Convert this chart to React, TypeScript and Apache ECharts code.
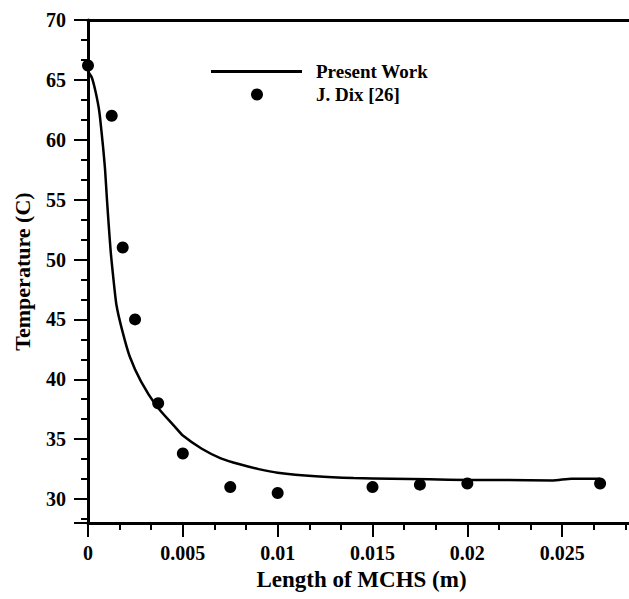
import React, { useEffect, useRef } from "react";
import * as echarts from "echarts";

// Present Work (line)
const lengthM = [0, 0.0002, 0.0004, 0.0006, 0.0008, 0.0009, 0.001, 0.0011, 0.0012, 0.0013, 0.0015, 0.0018, 0.0022, 0.0028, 0.0036, 0.0046, 0.005, 0.006, 0.007, 0.008, 0.009, 0.01, 0.012, 0.014, 0.016, 0.018, 0.02, 0.022, 0.0245, 0.0255, 0.027];
const presentTemp = [65.7, 65.2, 64.0, 62.3, 59.3, 57.5, 55.0, 52.7, 50.6, 49.0, 46.2, 44.1, 41.9, 39.8, 37.8, 36.0, 35.3, 34.2, 33.4, 32.9, 32.5, 32.2, 31.9, 31.75, 31.7, 31.65, 31.6, 31.6, 31.55, 31.7, 31.7];

// J. Dix [26] (points)
const dixLength = [0, 0.00125, 0.00183, 0.00248, 0.0037, 0.005, 0.0075, 0.01, 0.015, 0.0175, 0.02, 0.027];
const dixTemp = [66.2, 62.0, 51.0, 45.0, 38.0, 33.8, 31.0, 30.5, 31.0, 31.2, 31.3, 31.3];

// Axis tick labels
const xTickLabels = [0, 0.005, 0.01, 0.015, 0.02, 0.025];
const yTickLabels = [30, 35, 40, 45, 50, 55, 60, 65, 70];

const FONT = "'Liberation Serif', 'Times New Roman', serif";

export default function App() {
  const ref = useRef<HTMLDivElement>(null);
  useEffect(() => {
    if (!ref.current) return;
    const chart = echarts.init(ref.current, null, { renderer: "svg" });
    const labelStyle = { fontFamily: FONT, fontWeight: "bold", fontSize: 20, color: "#000" };
    const tickLine = { color: "#000", width: 2 };
    chart.setOption({
      animation: false,
      backgroundColor: "#ffffff",
      grid: { left: 88, top: 20, right: 3, bottom: 76, show: false, containLabel: false },
      legend: [
        {
          orient: "vertical",
          left: 211,
          top: 62,
          padding: 0,
          itemWidth: 91,
          itemHeight: 3,
          textStyle: { ...labelStyle, fontSize: 19, lineHeight: 18, padding: [0, 0, 0, 9] },
          data: [{ name: "Present Work", icon: "rect" }],
        },
        {
          orient: "vertical",
          left: 251,
          top: 85,
          padding: 0,
          itemWidth: 12,
          itemHeight: 12,
          textStyle: { ...labelStyle, fontSize: 19, lineHeight: 18, padding: [0, 0, 0, 48] },
          data: [{ name: "J. Dix [26]", icon: "circle" }],
        },
      ],
      xAxis: [
        {
          type: "value",
          min: 0,
          max: 0.03,
          interval: 0.005,
          position: "bottom",
          name: "Length of MCHS (m)",
          nameLocation: "middle",
          nameGap: 45,
          nameTextStyle: { ...labelStyle, fontSize: 23, padding: [0, 22, 0, 0] },
          axisLine: { show: true, onZero: false, lineStyle: { color: "#000", width: 3 } },
          axisTick: { show: true, inside: false, length: 14, lineStyle: tickLine },
          minorTick: { show: true, splitNumber: 3, length: 7, lineStyle: tickLine },
          axisLabel: { customValues: xTickLabels, margin: 20, ...labelStyle },
          splitLine: { show: false },
          minorSplitLine: { show: false },
        },
        {
          type: "value",
          min: 0,
          max: 0.03,
          position: "top",
          axisLine: { show: true, onZero: false, lineStyle: { color: "#000", width: 3 } },
          axisTick: { show: false },
          axisLabel: { show: false },
          splitLine: { show: false },
        },
      ],
      yAxis: [
        {
          type: "value",
          min: 28,
          max: 70,
          splitNumber: 8,
          position: "left",
          name: "Temperature (C)",
          nameLocation: "middle",
          nameGap: 55,
          nameTextStyle: { ...labelStyle, fontSize: 22 },
          axisLine: { show: true, onZero: false, lineStyle: { color: "#000", width: 3 } },
          axisTick: { show: true, inside: false, length: 14, lineStyle: tickLine },
          minorTick: { show: true, splitNumber: 3, length: 7, lineStyle: tickLine },
          axisLabel: { customValues: yTickLabels, margin: 22, ...labelStyle },
          splitLine: { show: false },
          minorSplitLine: { show: false },
        },
      ],
      series: [
        {
          name: "Present Work",
          type: "line",
          symbol: "none",
          smooth: 0.2,
          lineStyle: { color: "#000", width: 2.5 },
          itemStyle: { color: "#000" },
          data: lengthM.map((x, i) => [x, presentTemp[i]]),
          z: 3,
        },
        {
          name: "J. Dix [26]",
          type: "scatter",
          symbol: "circle",
          symbolSize: 12,
          itemStyle: { color: "#000", opacity: 1 },
          data: dixLength.map((x, i) => [x, dixTemp[i]]),
          z: 4,
        },
      ],
    });
    return () => chart.dispose();
  }, []);
  return (
    <div style={{ position: "fixed", left: 0, top: 0, width: 629, height: 599, overflow: "hidden", background: "#fff" }}>
      <div ref={ref} style={{ width: 660, height: 599 }} />
    </div>
  );
}
